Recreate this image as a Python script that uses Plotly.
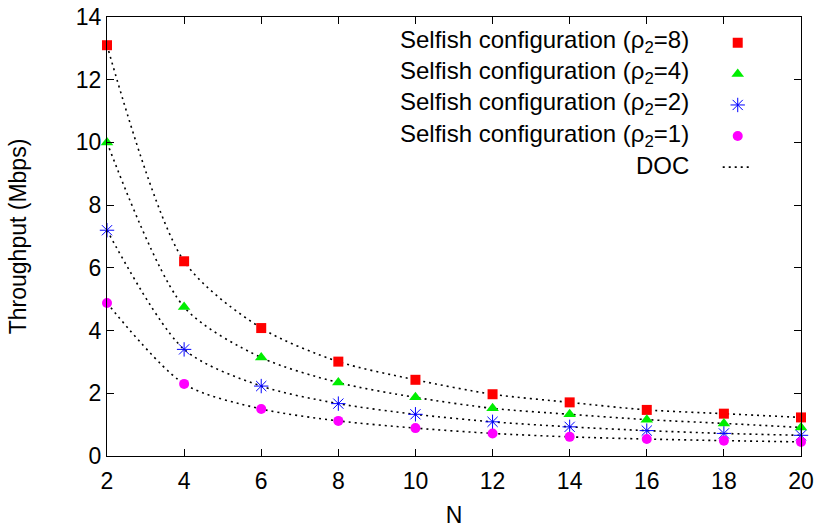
import plotly.graph_objects as go

N = [2, 4, 6, 8, 10, 12, 14, 16, 18, 20]
rho8 = [13.1, 6.21, 4.08, 3.01, 2.43, 1.97, 1.71, 1.47, 1.35, 1.23]
rho4 = [10.0, 4.75, 3.14, 2.34, 1.87, 1.52, 1.33, 1.16, 1.04, 0.91]
rho2 = [7.2, 3.40, 2.23, 1.67, 1.33, 1.09, 0.93, 0.81, 0.72, 0.66]
rho1 = [4.88, 2.30, 1.50, 1.12, 0.89, 0.72, 0.61, 0.54, 0.49, 0.45]

labels = ["Selfish configuration (\u03c1<sub>2</sub>=8)",
          "Selfish configuration (\u03c1<sub>2</sub>=4)",
          "Selfish configuration (\u03c1<sub>2</sub>=2)",
          "Selfish configuration (\u03c1<sub>2</sub>=1)",
          "DOC"]

x_ticks = [2, 4, 6, 8, 10, 12, 14, 16, 18, 20]
y_ticks = [0, 2, 4, 6, 8, 10, 12, 14]

FONT = "Liberation Sans, Arial, sans-serif"
FS = 23
LFS = 24

fig = go.Figure()

series = [rho8, rho4, rho2, rho1]
for i, s in enumerate(series):
    fig.add_trace(go.Scatter(x=N, y=s, mode="lines",
                             line=dict(color="black", width=1.6, dash="2px,4px", shape="spline", smoothing=0.8),
                             showlegend=False, cliponaxis=False, hoverinfo="skip"))

styles = [
    dict(symbol="square", color="#ff0000", size=10),
    dict(symbol="triangle-up", color="#00ee00", size=11),
    dict(symbol="asterisk-open", color="#0000ff", size=12, line=dict(color="#0000ff", width=1)),
    dict(symbol="circle", color="#ff00ff", size=10),
]
for i, s in enumerate(series):
    st = dict(styles[i])
    if "line" not in st:
        st["line"] = dict(width=0)
    fig.add_trace(go.Scatter(x=N, y=s, mode="markers", marker=st, name=" ",
                             cliponaxis=False, showlegend=True))

fig.add_trace(go.Scatter(x=[None], y=[None], mode="lines", name=" ",
                         line=dict(color="black", width=1.6, dash="2px,4px"), showlegend=True))

row_y = [0.945, 0.874, 0.803, 0.731, 0.661]
for lab, yy in zip(labels, row_y):
    fig.add_annotation(xref="paper", yref="paper", x=0.8415, y=yy, text=lab, showarrow=False,
                       xanchor="right", yanchor="middle", font=dict(family=FONT, size=LFS, color="black"))

axis_common = dict(showline=True, linecolor="black", linewidth=1, mirror="ticks", ticks="inside",
                   ticklen=7, tickcolor="black", tickwidth=1, showgrid=False, zeroline=False,
                   tickfont=dict(family=FONT, size=FS, color="black"))

fig.update_layout(
    width=819, height=529,
    margin=dict(l=107, r=18, t=17, b=73, autoexpand=False),
    paper_bgcolor="white", plot_bgcolor="white",
    font=dict(family=FONT, size=FS, color="black"),
    xaxis=dict(range=[2, 20], tickvals=x_ticks, ticklabelstandoff=4,
               title=dict(text="N", font=dict(family=FONT, size=FS), standoff=14), **axis_common),
    yaxis=dict(range=[0, 14], tickvals=y_ticks,
               title=dict(text="Throughput (Mbps)", font=dict(family=FONT, size=FS), standoff=42), **axis_common),
    legend=dict(x=0.880, y=0.988, xanchor="left", yanchor="top", bgcolor="rgba(0,0,0,0)",
                font=dict(family=FONT, size=21.6), itemwidth=30, tracegroupgap=0),
    showlegend=True,
)

fig.write_html("out.html")
